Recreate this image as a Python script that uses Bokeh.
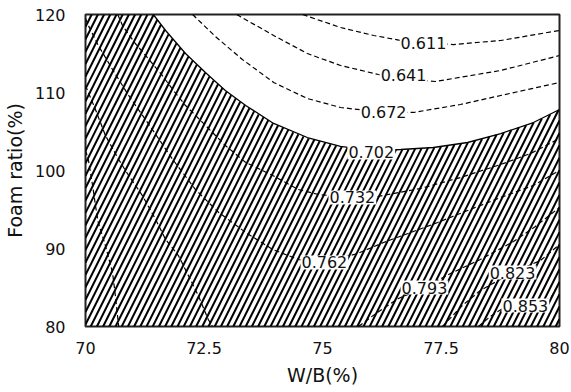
import numpy as np
from bokeh.plotting import figure
from bokeh.models import Range1d, FixedTicker
from bokeh.core.properties import value
from bokeh.embed import file_html
from bokeh.resources import INLINE

# ---- data ----
x_ticks = [70, 72.5, 75, 77.5, 80]
x_tick_labels = ["70", "72.5", "75", "77.5", "80"]
y_ticks = [80, 90, 100, 110, 120]
y_tick_labels = ["80", "90", "100", "110", "120"]

c611_x = [74.58, 75.38, 76.08, 76.65, 77.17, 77.76, 78.76, 80.0]
c611_y = [120.0, 118.33, 117.31, 116.67, 116.41, 116.15, 116.67, 117.95]

c641_x = [73.19, 73.97, 74.68, 75.38, 76.18, 76.75, 77.38, 78.76, 80.0]
c641_y = [120.0, 117.31, 115.0, 113.46, 112.31, 111.67, 111.41, 112.82, 114.74]

c672_x = [72.26, 72.74, 73.31, 73.97, 74.68, 75.38, 76.29, 76.92, 77.91, 78.76, 80.0]
c672_y = [120.0, 117.18, 114.23, 111.28, 109.23, 108.08, 107.44, 107.44, 108.46, 109.62, 111.28]

c702_x = [71.43, 71.69, 72.11, 72.53, 72.95, 73.38, 73.97, 74.68, 75.38, 76.05, 76.65, 77.34,
          78.06, 78.76, 79.45, 80.0]
c702_y = [120.0, 117.95, 115.0, 112.56, 110.26, 108.33, 106.03, 104.23, 103.08, 102.56, 102.69,
          102.95, 103.59, 104.74, 106.15, 107.82]

c732_x = [70.68, 70.78, 71.05, 71.27, 71.62, 71.84, 72.11, 72.26, 72.68, 72.95, 73.38, 73.95,
          74.49, 74.92, 75.63, 76.16, 77.07, 77.91, 78.76, 79.39, 80.0]
c732_y = [120.0, 118.59, 116.28, 114.74, 112.18, 110.38, 108.33, 107.44, 104.87, 103.21, 101.03,
          99.36, 97.56, 96.92, 96.54, 96.67, 97.69, 99.10, 100.77, 102.18, 104.10]

c762_x = [70.0, 70.06, 70.27, 70.57, 70.91, 71.41, 71.84, 72.32, 72.81, 73.38, 73.95, 74.49,
          75.04, 75.74, 76.29, 76.86, 77.43, 78.06, 78.76, 79.45, 80.0]
c762_y = [119.49, 118.59, 116.03, 112.95, 109.62, 105.26, 101.41, 97.56, 94.62, 92.05, 89.87,
          88.59, 88.21, 89.36, 90.77, 92.05, 93.33, 94.87, 96.54, 98.08, 100.0]

c793_x = [75.76, 76.01, 76.22, 76.60, 77.15, 77.70, 78.33, 79.03, 79.49, 80.0]
c793_y = [80.0, 81.15, 82.05, 83.59, 85.0, 86.79, 88.59, 90.90, 92.82, 95.26]

c823_x = [77.53, 77.95, 78.33, 79.01, 79.60, 80.0]
c823_y = [80.0, 82.69, 84.62, 86.92, 88.46, 90.51]

c853_x = [78.29, 78.54, 78.80, 79.28, 79.81, 80.0]
c853_y = [80.0, 81.28, 82.31, 82.69, 83.59, 85.64]

left_a_x = [70.0, 70.06, 70.21, 70.42, 70.70, 70.91, 71.20, 71.48, 71.69, 71.96, 72.17, 72.38,
            72.59, 72.68]
left_a_y = [110.90, 110.0, 107.82, 104.49, 101.41, 99.36, 96.79, 93.72, 91.15, 89.10, 86.54,
            83.97, 80.90, 80.0]

left_b_x = [70.0, 70.06, 70.15, 70.21, 70.27, 70.42, 70.57, 70.63, 70.70]
left_b_y = [102.56, 101.41, 98.08, 95.51, 93.33, 90.38, 86.92, 83.97, 80.0]

label_text = ["0.611", "0.641", "0.672", "0.702", "0.732", "0.762", "0.793", "0.823", "0.853"]
label_x = [77.13, 76.71, 76.29, 76.03, 75.63, 75.04, 77.15, 79.01, 79.28]
label_y = [116.41, 112.18, 107.44, 102.31, 96.54, 88.21, 85.0, 86.92, 82.69]

# ---- figure ----
W, H = 571, 392
BL, BR, BT, BB = 85, 12, 14, 66
X0, X1, Y0, Y1 = 70.0, 80.0, 80.0, 120.0
FONT = "DejaVu Sans"
p = figure(width=W, height=H, output_backend="svg", toolbar_location=None,
           x_range=Range1d(X0, X1), y_range=Range1d(Y0, Y1),
           min_border_left=BL, min_border_right=BR, min_border_top=BT, min_border_bottom=BB)
p.background_fill_color = "white"
p.border_fill_color = "white"
p.outline_line_color = "#222222"
p.outline_line_width = 2
p.xgrid.visible = False
p.ygrid.visible = False

# ---- hatching of the region at or above the 0.702 level (style: steep "/" stripes) ----
px_x = (W - BL - BR) / (X1 - X0)
px_y = (H - BT - BB) / (Y1 - Y0)
k = 2.0 * px_x / px_y            # stripe slope (2:1 on screen) in data units
step = 6.2 / px_x                 # horizontal stripe spacing


def upper(xv):
    xv = np.asarray(xv)
    return np.where(xv < c702_x[0], Y1, np.interp(xv, c702_x, c702_y))


hx, hy = [], []
for a in np.arange(X0 - (Y1 - Y0) / k - step, X1, step):
    xs = np.linspace(max(a, X0), min(X1, a + (Y1 - Y0) / k), 600)
    ys = Y0 + k * (xs - a)
    ok = (ys <= upper(xs)) & (ys >= Y0)
    if not ok.any():
        continue
    idx = np.nonzero(ok)[0]
    i0, i1 = idx[0], idx[-1]
    hx.append([float(xs[i0]), float(xs[i1])])
    hy.append([float(ys[i0]), float(ys[i1])])

p.multi_line(hx, hy, line_color="black", line_width=2.0)

dash = dict(line_color="black", line_width=1.2, line_dash="5 3")
for xs, ys in [(c611_x, c611_y), (c641_x, c641_y), (c672_x, c672_y), (c732_x, c732_y),
               (c762_x, c762_y), (c793_x, c793_y), (c823_x, c823_y), (c853_x, c853_y),
               (left_a_x, left_a_y), (left_b_x, left_b_y)]:
    p.line(xs, ys, **dash)

p.line(c702_x, c702_y, line_color="black", line_width=1.3)

p.text(label_x, label_y, text=label_text, text_font=value(FONT), text_font_size="16px",
       text_color="#111111", text_align="center", text_baseline="middle",
       background_fill_color="white", padding=1)

# axes
p.xaxis.ticker = FixedTicker(ticks=x_ticks)
p.yaxis.ticker = FixedTicker(ticks=y_ticks)
p.xaxis.major_label_overrides = dict(zip(x_ticks, x_tick_labels))
p.yaxis.major_label_overrides = dict(zip(y_ticks, y_tick_labels))
for ax in (p.xaxis[0], p.yaxis[0]):
    ax.axis_line_color = None
    ax.major_tick_line_color = None
    ax.minor_tick_line_color = None
    ax.major_tick_out = 0
    ax.major_tick_in = 0
    ax.major_label_text_font = FONT
    ax.major_label_text_font_size = "16px"
    ax.major_label_text_color = "#111111"
    ax.axis_label_text_font = FONT
    ax.axis_label_text_font_size = "19px"
    ax.axis_label_text_font_style = "normal"
    ax.axis_label_text_color = "#111111"
p.xaxis.axis_label = "W/B(%)"
p.yaxis.axis_label = "Foam ratio(%)"
p.xaxis.major_label_standoff = 15
p.xaxis.axis_label_standoff = 7
p.yaxis.major_label_standoff = 20
p.yaxis.axis_label_standoff = 6

open("out.html", "w").write(file_html(p, INLINE))
